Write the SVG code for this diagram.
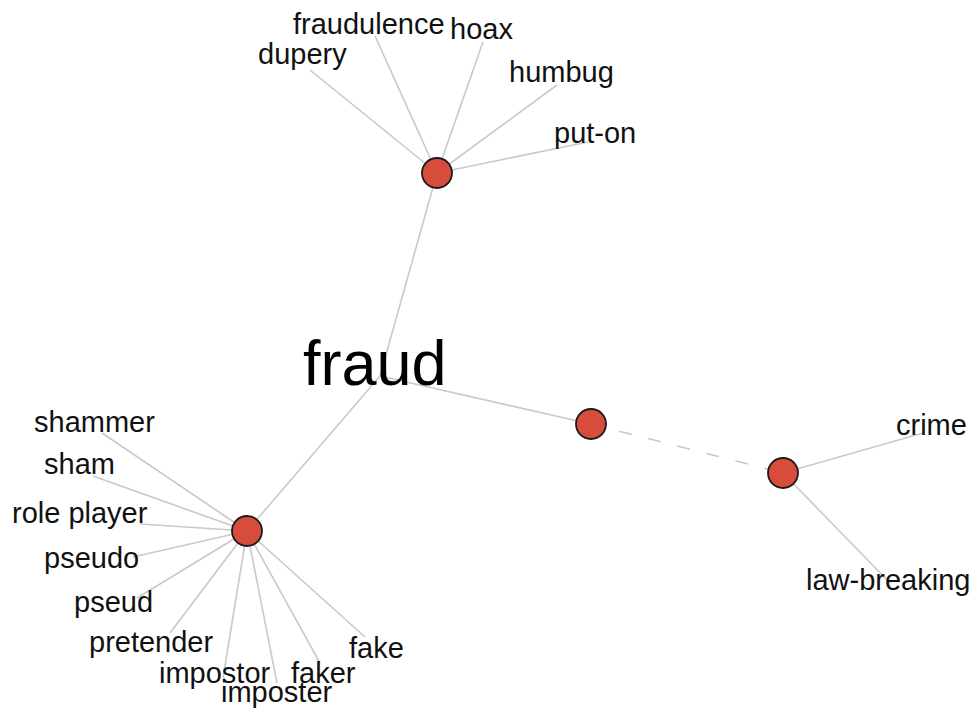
<svg xmlns="http://www.w3.org/2000/svg" width="974" height="708" viewBox="0 0 974 708">
  <style>
    .edge { stroke: #c9c9c9; stroke-width: 1.6; fill: none; }
    .dashed { stroke-dasharray: 13 17; stroke-dashoffset: 1; }
    .hub { fill: #d84c3b; stroke: #1a1a1a; stroke-width: 1.8; }
    .word { font-family: "Liberation Sans", Arial, sans-serif; font-size: 29px; fill: #111; }
    .root { font-family: "Liberation Sans", Arial, sans-serif; font-size: 63px; fill: #000; }
  </style>
  <rect width="974" height="708" fill="#fff"/>

  <!-- connectors -->
  <g id="edges">
    <!-- root to meaning hubs -->
    <line class="edge" x1="380" y1="376" x2="437" y2="173"/>
    <line class="edge" x1="380" y1="376" x2="247" y2="531"/>
    <line class="edge" x1="380" y1="376" x2="591" y2="424"/>
    <line class="edge dashed" x1="591" y1="424" x2="783" y2="473"/>
    <!-- upper hub -->
    <line class="edge" x1="437" y1="173" x2="310" y2="70"/>
    <line class="edge" x1="437" y1="173" x2="375" y2="36"/>
    <line class="edge" x1="437" y1="173" x2="483" y2="42"/>
    <line class="edge" x1="437" y1="173" x2="557" y2="85"/>
    <line class="edge" x1="437" y1="173" x2="588" y2="142"/>
    <!-- lower hub -->
    <line class="edge" x1="247" y1="531" x2="102" y2="433"/>
    <line class="edge" x1="247" y1="531" x2="93" y2="476"/>
    <line class="edge" x1="247" y1="531" x2="140" y2="524"/>
    <line class="edge" x1="247" y1="531" x2="133" y2="557"/>
    <line class="edge" x1="247" y1="531" x2="137" y2="598"/>
    <line class="edge" x1="247" y1="531" x2="170" y2="633"/>
    <line class="edge" x1="247" y1="531" x2="223" y2="678"/>
    <line class="edge" x1="247" y1="531" x2="277" y2="683"/>
    <line class="edge" x1="247" y1="531" x2="320" y2="663"/>
    <line class="edge" x1="247" y1="531" x2="365" y2="637"/>
    <!-- right hub -->
    <line class="edge" x1="783" y1="473" x2="923" y2="433"/>
    <line class="edge" x1="783" y1="473" x2="890" y2="583"/>
  </g>

  <!-- root word -->
  <g id="fraud"><text class="root" x="303" y="385">fraud</text></g>

  <!-- upper meaning -->
  <g id="w-dupery"><text class="word" x="258" y="64">dupery</text></g>
  <g id="w-fraudulence"><text class="word" x="293" y="34">fraudulence</text></g>
  <g id="w-hoax"><text class="word" x="450" y="39">hoax</text></g>
  <g id="w-humbug"><text class="word" x="509" y="82">humbug</text></g>
  <g id="w-put-on"><text class="word" x="554" y="143">put-on</text></g>

  <!-- lower meaning -->
  <g id="w-shammer"><text class="word" x="34" y="432">shammer</text></g>
  <g id="w-sham"><text class="word" x="44" y="474">sham</text></g>
  <g id="w-role-player"><text class="word" x="12" y="523">role player</text></g>
  <g id="w-pseudo"><text class="word" x="44" y="568">pseudo</text></g>
  <g id="w-pseud"><text class="word" x="74" y="612">pseud</text></g>
  <g id="w-pretender"><text class="word" x="89" y="652">pretender</text></g>
  <g id="w-impostor"><text class="word" x="159" y="683">impostor</text></g>
  <g id="w-imposter"><text class="word" x="221" y="702">imposter</text></g>
  <g id="w-faker"><text class="word" x="291" y="683">faker</text></g>
  <g id="w-fake"><text class="word" x="349" y="658">fake</text></g>

  <!-- right meaning -->
  <g id="w-crime"><text class="word" x="896" y="435">crime</text></g>
  <g id="w-law-breaking"><text class="word" x="806" y="590">law-breaking</text></g>

  <!-- meaning hubs -->
  <g id="hub-upper"><circle class="hub" cx="437" cy="173" r="15"/></g>
  <g id="hub-lower"><circle class="hub" cx="247" cy="531" r="15"/></g>
  <g id="hub-middle"><circle class="hub" cx="591" cy="424" r="15"/></g>
  <g id="hub-right"><circle class="hub" cx="783" cy="473" r="15"/></g>
</svg>
